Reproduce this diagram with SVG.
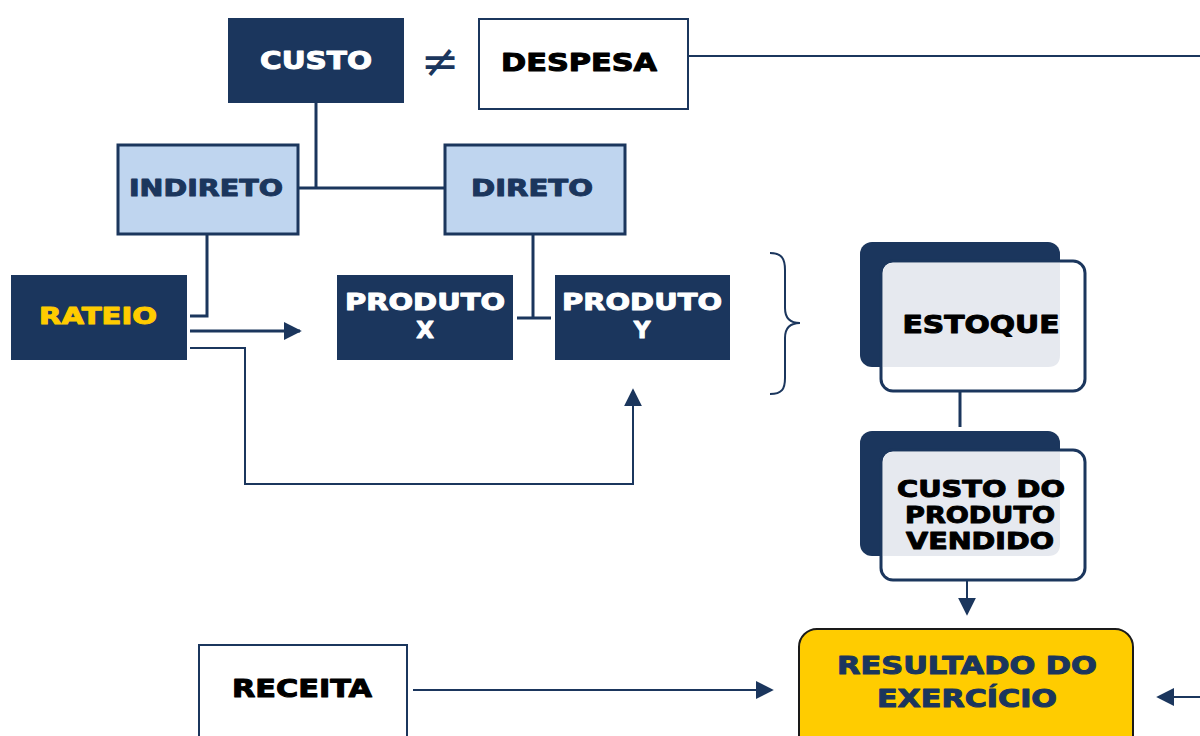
<svg xmlns="http://www.w3.org/2000/svg" width="1200" height="736" viewBox="0 0 1200 736">
<defs>
<style>
.t{font-family:"DejaVu Sans","Liberation Sans",sans-serif;font-weight:bold;text-anchor:middle;stroke-width:1;stroke-linejoin:round;}
.w{fill:#ffffff;stroke:#ffffff;}
.k{fill:#000000;stroke:#000000;}
.b{fill:#1b365d;stroke:#1b365d;}
.y{fill:#ffcc00;stroke:#ffcc00;}
.ln{fill:none;stroke:#1b365d;stroke-width:3;}
.ln2{fill:none;stroke:#1b365d;stroke-width:2;}
</style>
<marker id="ah2" viewBox="0 0 10 10" refX="9" refY="5" markerWidth="18" markerHeight="18" markerUnits="userSpaceOnUse" orient="auto">
<path d="M0,0 L10,5 L0,10 z" fill="#1b365d"/>
</marker>
</defs>
<rect width="1200" height="736" fill="#ffffff"/>
<g id="connectors">
<path class="ln" d="M316,103 V188"/>
<path class="ln" d="M298,188 H444"/>
<path class="ln" d="M207,234 V316 H190"/>
<path class="ln" d="M533,234 V318"/>
<path class="ln" d="M517,318 H551"/>
<path class="ln" d="M190,331 H300" marker-end="url(#ah2)"/>
<path class="ln2" d="M190,348 H245 V484 H633 V390" marker-end="url(#ah2)"/>
<path class="ln2" d="M688,56 H1200"/>
<path class="ln2" d="M770,253 C782,253 785,259 785,270 L785,308 C785,318 790,323 800,323 C790,323 785,328 785,338 L785,378 C785,389 782,394 770,394"/>
<path class="ln" d="M960,391 V427"/>
<path class="ln2" d="M967,580 V614" marker-end="url(#ah2)"/>
<path class="ln2" d="M413,690 H772" marker-end="url(#ah2)"/>
<path class="ln2" d="M1200,697 H1158" marker-end="url(#ah2)"/>
</g>
<g id="custo">
<rect x="228" y="18" width="176" height="85" fill="#1b365d"/>
<text class="t w" x="316" y="69" font-size="24" textLength="112" lengthAdjust="spacingAndGlyphs">CUSTO</text>
</g>
<g id="neq">
<text x="440" y="77" font-size="46" fill="#1b365d" style="font-family:'DejaVu Sans',sans-serif;font-weight:normal;text-anchor:middle;">≠</text>
</g>
<g id="despesa">
<rect x="479" y="19" width="209" height="90" fill="#ffffff" stroke="#1b365d" stroke-width="2"/>
<text class="t k" x="579" y="71" font-size="24" textLength="156" lengthAdjust="spacingAndGlyphs">DESPESA</text>
</g>
<g id="indireto">
<rect x="118" y="145" width="180" height="89" fill="#bfd5ef" stroke="#1b365d" stroke-width="3"/>
<text class="t b" x="206" y="196" font-size="23" textLength="154" lengthAdjust="spacingAndGlyphs">INDIRETO</text>
</g>
<g id="direto">
<rect x="445" y="145" width="180" height="89" fill="#bfd5ef" stroke="#1b365d" stroke-width="3"/>
<text class="t b" x="532" y="196" font-size="23" textLength="122" lengthAdjust="spacingAndGlyphs">DIRETO</text>
</g>
<g id="rateio">
<rect x="11" y="275" width="176" height="85" fill="#1b365d"/>
<text class="t y" x="98" y="324" font-size="23" textLength="118" lengthAdjust="spacingAndGlyphs">RATEIO</text>
</g>
<g id="produto-x">
<rect x="337" y="275" width="176" height="85" fill="#1b365d"/>
<text class="t w" x="425" y="310" font-size="23" textLength="160" lengthAdjust="spacingAndGlyphs">PRODUTO</text>
<text class="t w" x="425" y="338" font-size="23">X</text>
</g>
<g id="produto-y">
<rect x="555" y="275" width="175" height="85" fill="#1b365d"/>
<text class="t w" x="642" y="310" font-size="23" textLength="160" lengthAdjust="spacingAndGlyphs">PRODUTO</text>
<text class="t w" x="642" y="338" font-size="23">Y</text>
</g>
<g id="estoque">
<rect x="860" y="242" width="200" height="125" rx="12" fill="#1b365d"/>
<rect x="881" y="261" width="204" height="130" rx="12" fill="#ffffff" stroke="#1b365d" stroke-width="3"/>
<path d="M894,263 H1060 V355 Q1060,367 1048,367 H883 V274 Q883,263 894,263 z" fill="#e6e9ef"/>
<text class="t k" x="981" y="333" font-size="24" textLength="157" lengthAdjust="spacingAndGlyphs">ESTOQUE</text>
</g>
<g id="cpv">
<rect x="860" y="431" width="200" height="125" rx="12" fill="#1b365d"/>
<rect x="881" y="450" width="204" height="130" rx="12" fill="#ffffff" stroke="#1b365d" stroke-width="3"/>
<path d="M894,452 H1060 V544 Q1060,556 1048,556 H883 V463 Q883,452 894,452 z" fill="#e6e9ef"/>
<text class="t k" x="981" y="497" font-size="23" textLength="168" lengthAdjust="spacingAndGlyphs">CUSTO DO</text>
<text class="t k" x="980" y="523" font-size="23" textLength="150" lengthAdjust="spacingAndGlyphs">PRODUTO</text>
<text class="t k" x="980" y="549" font-size="23" textLength="148" lengthAdjust="spacingAndGlyphs">VENDIDO</text>
</g>
<g id="resultado">
<rect x="799" y="629" width="334" height="125" rx="18" fill="#ffcc00" stroke="#1a1a1a" stroke-width="2"/>
<text class="t b" x="967" y="674" font-size="24" textLength="260" lengthAdjust="spacingAndGlyphs">RESULTADO DO</text>
<text class="t b" x="967" y="707" font-size="24" textLength="180" lengthAdjust="spacingAndGlyphs">EXERCÍCIO</text>
</g>
<g id="receita">
<rect x="199" y="645" width="208" height="100" fill="#ffffff" stroke="#1b365d" stroke-width="2"/>
<text class="t k" x="302" y="697" font-size="24" textLength="140" lengthAdjust="spacingAndGlyphs">RECEITA</text>
</g>
</svg>
